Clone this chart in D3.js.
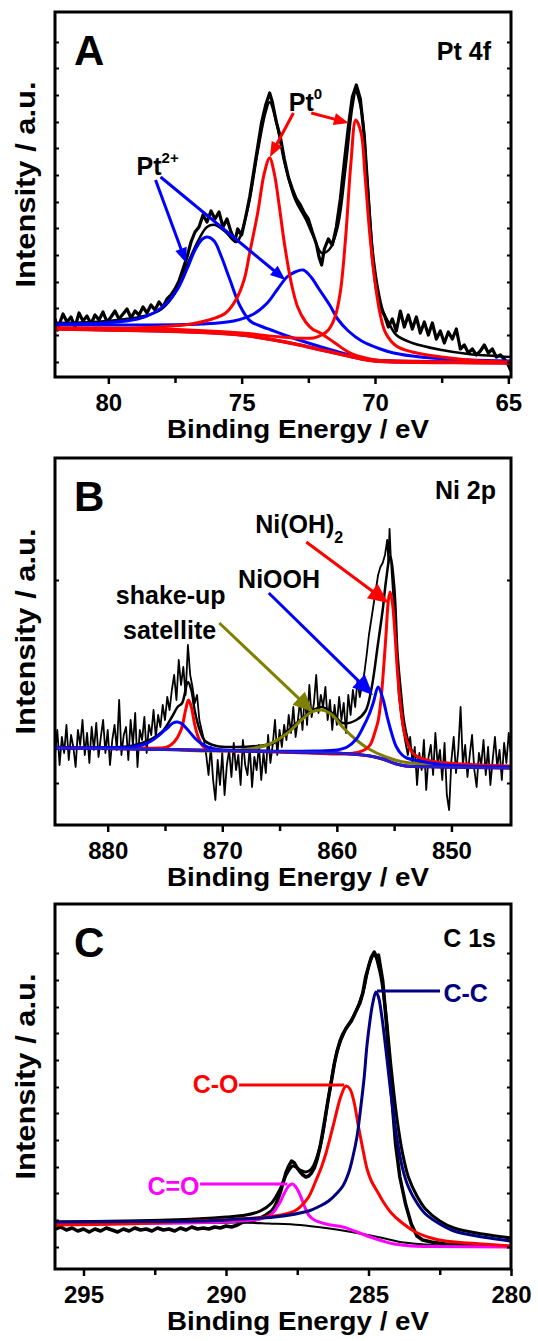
<!DOCTYPE html>
<html>
<head>
<meta charset="utf-8">
<script src="https://cdn.jsdelivr.net/npm/d3@7"></script>
<style>
body { margin: 0; background: #fff; }
text { font-family: "Liberation Sans", Arial, sans-serif; font-weight: bold; }
</style>
</head>
<body>
<script>
// ---------- panel A : Pt 4f ----------
var ptTicks = [80, 75, 70, 65];
var ptMinor = [77.5, 72.5, 67.5];
var ptYTicks = [15, 42, 69, 95, 122, 149, 175, 202, 229, 255, 282, 309, 335];

var ptRaw = [[82.0,58],[81.9,47],[81.85,52],[81.7,63],[81.55,55],[81.4,60],[81.25,50],[81.1,64],[80.95,56],[80.8,61],[80.65,53],
  [80.5,62],[80.35,57],[80.2,65],[80.05,55],[79.9,60],[79.75,66],[79.6,58],[79.45,63],[79.3,68],[79.15,59],[79.0,66],
  [78.85,62],[78.7,70],[78.55,64],[78.4,72],[78.25,67],[78.1,75],[77.95,70],[77.8,78],[77.65,82],[77.5,88],[77.35,96],
  [77.2,108],[77.05,120],[76.9,135],[76.75,145],[76.6,150],[76.45,162],[76.3,155],[76.15,166],[76.0,158],[75.85,165],
  [75.7,150],[75.55,158],[75.4,145],[75.25,136],[75.15,148],[75.0,142],[74.85,160],[74.7,180],[74.55,205],[74.4,230],
  [74.25,255],[74.1,272],[73.95,284],[73.85,275],[73.7,255],[73.55,240],[73.4,218],[73.25,200],[73.1,188],[72.95,178],
  [72.8,172],[72.65,164],[72.5,158],[72.35,145],[72.2,133],[72.1,120],[72.0,112],[71.9,128],[71.75,138],[71.6,132],
  [71.45,150],[71.3,178],[71.15,215],[71.0,250],[70.85,280],[70.7,292],[70.55,278],[70.4,240],[70.25,180],[70.1,120],
  [69.95,88],[69.8,68],[69.65,62],[69.5,50],[69.35,58],[69.2,46],[69.05,66],[68.9,50],[68.75,62],[68.6,48],[68.45,60],
  [68.3,44],[68.15,55],[68.0,42],[67.85,54],[67.7,38],[67.55,46],[67.4,34],[67.25,45],[67.1,38],[66.95,48],[66.8,28],
  [66.65,32],[66.5,24],[66.35,28],[66.2,22],[66.05,26],[65.9,32],[65.75,24],[65.6,28],[65.45,20],[65.3,22],[65.15,18],
  [65.0,12],[64.9,6]];
var ptFit = [[82,54],[80,56],[78.5,62],[78,68],[77.5,84],[77,115],[76.6,138],[76.3,150],[76,152],[75.6,145],[75.2,135],
  [74.8,165],[74.4,225],[74.1,265],[73.95,275],[73.7,255],[73.4,215],[73.0,178],[72.6,158],[72.3,140],[72.0,124],
  [71.7,128],[71.4,150],[71.1,210],[70.85,270],[70.72,285],[70.5,265],[70.3,200],[70.1,130],[69.9,90],[69.7,66],
  [69.5,55],[69.2,42],[68.6,34],[67.5,27],[66.5,23],[65.5,21],[64.9,20]];
var ptBase = [[82,48],[80,47],[78,46],[76,44],[75,42],[74,38],[73,33],[72,27],[71,21],[70.5,18],[70,16],[69,15],
  [67,14.5],[64.9,14]];
var pt0High = [[82,49],[79,49],[77.6,51],[76.9,53],[76.1,58],[75.6,64],[75.2,78],[74.9,98],[74.7,124],[74.4,164],
  [74.15,204],[73.95,219],[73.78,204],[73.59,171],[73.4,134],[73.14,94],[72.9,70],[72.6,55],[72.35,48],[72.05,44],
  [71.5,34],[71.0,25],[70.5,20],[70.0,17],[68.5,15.5],[64.9,14.5]];
var pt0Low = [[82,49],[78,48],[75,44],[73.5,40],[72.3,39],[72.0,42],[71.75,47],[71.5,60],[71.3,85],[71.1,140],
  [70.9,215],[70.72,257],[70.52,244],[70.38,204],[70.2,144],[70.0,95],[69.8,62],[69.6,44],[69.2,31],[68.6,25],
  [67.5,20],[66,16],[64.9,15]];
var pt2High = [[82,53],[80.2,54],[78.9,58],[78.3,64],[77.8,74],[77.4,88],[77.05,108],[76.73,128],[76.47,138],
  [76.28,140],[76.03,136],[75.77,121],[75.45,98],[75.06,71],[74.68,56],[74.2,50],[73.9,47],[73.4,42],[72.5,34],
  [71.5,26],[70.5,19],[70.0,17],[68,15.5],[64.9,15]];
var pt2Low = [[82,52],[79,52],[76.5,53],[75.3,56],[74.55,63],[74.04,74],[73.65,88],[73.3,100],[73.0,105],
  [72.69,107],[72.4,100],[72.1,88],[71.7,72],[71.4,58],[71.0,46],[70.5,36],[69.8,28],[69.3,24],[68.3,20],
  [66.5,17],[64.9,16]];

// ---------- panel B : Ni 2p ----------
var niTicks = [880, 870, 860, 850];
var niMinor = [875, 865, 855];
var niYTicks = [42, 245];

var niRaw = [[884.6,70],[884.4,95],[884.2,60],[884.0,88],[883.8,72],[883.6,100],[883.4,65],[883.2,90],[883.0,78],
  [882.8,58],[882.6,95],[882.4,80],[882.2,105],[882.0,70],[881.8,92],[881.6,62],[881.4,98],[881.2,75],[881.0,102],
  [880.8,68],[880.6,88],[880.4,105],[880.2,72],[880.0,95],[879.8,60],[879.6,85],[879.4,100],[879.2,75],[879.0,125],
  [878.8,70],[878.6,90],[878.4,98],[878.2,65],[878.0,105],[877.8,80],[877.6,112],[877.4,58],[877.2,95],[877.0,85],
  [876.8,108],[876.6,72],[876.4,100],[876.2,90],[876.0,115],[875.8,88],[875.6,110],[875.4,98],[875.2,120],
  [875.0,105],[874.8,128],[874.6,115],[874.4,135],[874.2,150],[874.0,125],[873.8,165],[873.6,140],[873.4,158],
  [873.2,130],[873.0,180],[872.8,150],[872.6,138],[872.4,122],[872.2,130],[872.0,105],[871.8,95],[871.6,85],
  [871.4,70],[871.2,50],[871.0,78],[870.8,45],[870.6,25],[870.4,65],[870.2,40],[870.0,72],[869.8,30],[869.6,60],
  [869.4,75],[869.2,48],[869.0,82],[868.8,55],[868.6,70],[868.4,40],[868.2,85],[868.0,60],[867.8,50],[867.6,78],
  [867.4,38],[867.2,68],[867.0,55],[866.8,80],[866.6,45],[866.4,72],[866.2,52],[866.0,90],[865.8,62],[865.6,80],
  [865.4,105],[865.2,70],[865.0,95],[864.8,78],[864.6,100],[864.4,85],[864.2,110],[864.0,92],[863.8,118],
  [863.6,88],[863.4,105],[863.2,125],[863.0,95],[862.8,130],[862.6,100],[862.4,140],[862.2,108],[862.0,122],
  [861.8,150],[861.6,112],[861.4,130],[861.2,118],[861.0,138],[860.8,105],[860.6,125],[860.4,95],[860.2,120],
  [860.0,100],[859.8,128],[859.6,105],[859.4,122],[859.2,92],[859.0,130],[858.8,110],[858.6,135],[858.4,118],
  [858.2,145],[858.0,128],[857.8,140],[857.6,152],[857.4,170],[857.2,190],[857.0,205],[856.8,220],[856.6,235],
  [856.4,250],[856.2,258],[856.0,262],[855.8,270],[855.6,285],[855.5,262],[855.4,296],[855.3,270],[855.2,250],
  [855.0,215],[854.8,170],[854.6,130],[854.4,110],[854.2,95],[854.0,82],[853.8,70],[853.6,88],[853.4,62],
  [853.2,78],[853.0,40],[852.8,72],[852.6,55],[852.4,85],[852.2,35],[852.0,68],[851.8,80],[851.6,50],[851.4,92],
  [851.2,60],[851.0,75],[850.8,45],[850.6,82],[850.4,30],[850.2,15],[850.0,65],[849.8,88],[849.6,52],[849.4,75],
  [849.2,118],[849.0,60],[848.8,80],[848.6,48],[848.4,70],[848.2,90],[848.0,55],[847.8,38],[847.6,72],[847.4,60],
  [847.2,85],[847.0,50],[846.8,78],[846.6,40],[846.4,65],[846.2,88],[846.0,58],[845.8,75],[845.6,45],[845.4,82],
  [845.2,62],[845.0,92],[844.8,70]];
var niFit = [[884.6,78],[878,79],[876.2,86],[875.2,94],[874.4,108],[873.9,118],[873.5,122],[873.0,143],[872.7,135],
  [872.4,114],[872.0,96],[871.5,84],[870.5,79],[869,78],[867,79],[865.5,82],[864.3,94],[863.1,106],[862.2,114],
  [861.3,118],[860.4,112],[859.5,102],[858.3,105],[857.5,114],[857.0,135],[856.4,182],[856.0,215],[855.7,245],
  [855.35,269],[855.0,240],[854.7,171],[854.4,132],[854.1,101],[853.6,78],[853.0,68],[852,63],[850,60],[844.8,58]];
var niBase = [[884.6,77],[874.5,75.5],[865.8,73.5],[860,72],[857.1,69],[856,66],[854.8,61],[854,59],[850.6,58],
  [844.8,57]];
var niOH1 = [[884.6,77],[878,77],[875.5,77],[874.8,78],[874.2,83],[873.6,95],[873.2,115],[872.95,125],[872.7,118],
  [872.4,100],[872.1,88],[871.7,79],[871.2,75.5],[869,74],[865.8,73.5],[860,72],[857.1,69],[856,66],[854.8,61],
  [854,59],[850.6,58],[844.8,57]];
var niOH2 = [[884.6,77],[875,75.5],[868,74],[862.5,72],[859.5,71],[858.5,72],[857.6,75],[857.1,80],[856.7,92],
  [856.4,104],[856.15,125],[855.95,152],[855.7,192],[855.5,225],[855.35,233],[855.15,222],[854.95,195],[854.7,152],
  [854.45,120],[854.1,92],[853.7,78],[853.3,71],[852.5,66],[851.3,63],[849,61],[844.8,59]];
var niOOH1 = [[884.6,77],[880,77.5],[878,78],[877,80],[876.2,84],[875.5,90],[874.8,97],[874.3,102],[873.9,103],
  [873.5,101],[873.0,95],[872.4,87],[871.9,82],[871.2,77.5],[870.4,75.5],[867,74],[862.5,72.5],[860,72],[857.1,69],
  [856,66],[854.8,61],[854,59],[850.6,58],[844.8,57]];
var niOOH2 = [[884.6,77],[875,75.5],[868,74],[862,74],[860,75],[859.1,78],[858.3,86],[857.7,98],[857.2,110],
  [856.8,123],[856.4,138],[856.0,127],[855.6,108],[855.3,95],[854.8,78],[854.3,70],[853.9,67],[852.8,64],
  [850.6,60],[844.8,58]];
var niSat = [[884.6,77],[878,76.5],[875,76],[871.5,74],[868.5,75],[866.1,80],[864.3,92],[863.1,105],[862.2,113],
  [861.3,115],[860.4,110],[859.5,98],[858.4,86],[857.2,76],[855.7,68],[854.2,63],[850.6,60],[844.8,58]];

// ---------- panel C : C 1s ----------
var cTicks = [295, 290, 285, 280];
var cMinor = [292.5, 287.5, 282.5];
var cYTicks = [22, 49, 76, 102, 129, 156, 182, 209, 236, 262, 289, 316];

var cRaw = [[296,40],[295.8,42],[295.6,39],[295.4,41],[295.2,38],[295,40],[294.8,37],[294.6,40],[294.4,38],
  [294.2,41],[294,39],[293.8,37],[293.6,40],[293.4,38],[293.2,41],[293,39],[292.8,40],[292.6,38],[292.4,41],
  [292.2,39],[292,40],[291.8,38],[291.6,41],[291.4,39],[291.2,42],[291,40],[290.8,41],[290.6,40],[290.4,42],
  [290.2,41],[290,43],[289.8,42],[289.6,44],[289.4,47],[289.2,48],[289,49],[288.8,51],[288.6,54],[288.4,58],
  [288.3,62],[288.2,68],[288.1,76],[288,86],[287.9,96],[287.8,103],[287.7,108],[287.6,106],[287.5,101],[287.4,97],
  [287.3,94],[287.2,92],[287.1,93],[287,96],[286.9,101],[286.8,110],[286.7,122],[286.6,138],[286.5,155],[286.4,172],
  [286.3,188],[286.2,205],[286.1,218],[286,228],[285.9,235],[285.8,240],[285.7,244],[285.6,248],[285.5,254],
  [285.4,260],[285.3,266],[285.2,276],[285.1,292],[285,302],[284.9,312],[284.8,317],[284.72,312],[284.65,314],
  [284.5,288],[284.37,245],[284.22,185],[284.05,125],[283.9,92],[283.7,65],[283.5,45],[283.3,33],[283.1,29],
  [282.8,27],[282.3,25],[281.5,24],[280.5,23],[280,22.5]];
var cFit = [[296,47],[292,49],[290,52],[289.3,54],[288.8,58],[288.4,66],[288.1,80],[287.85,96],[287.65,103],
  [287.4,99],[287.2,97],[287,100],[286.7,122],[286.4,172],[286.1,218],[285.8,240],[285.5,254],[285.2,276],
  [284.95,307],[284.8,314],[284.6,297],[284.4,258],[284.2,200],[284,150],[283.8,115],[283.6,92],[283.3,73],
  [283,60],[282.5,48],[282,41],[281,35],[280,31]];
var cBase = [[296,45],[291,46],[289.5,46.5],[288.5,45.5],[287.4,44],[286.5,41],[285.6,37],[284.5,31],[283.9,27],
  [283,24.5],[282,23],[280,22.5]];
var cCO2 = [[296,45],[293,45.5],[290.7,46.5],[289.5,48],[288.8,50],[288.5,53],[288.3,58],[288.1,67],[287.95,76],
  [287.8,83],[287.67,85],[287.55,82],[287.4,74],[287.25,63],[287.1,54],[286.9,49],[286.5,45],[285.9,42],[285.4,37],
  [284.94,32],[284.5,28],[284.1,25],[283.5,23],[282.9,22.5],[280,22]];
var cCO = [[296,44],[293,45.5],[291.9,47],[290.5,48.5],[289.5,50],[288.3,53],[287.6,58],[287.4,62],[287.1,72],
  [286.85,88],[286.65,102],[286.5,115],[286.25,142],[286.0,170],[285.85,181],[285.78,183],[285.65,180],[285.5,166],
  [285.35,142],[285.2,120],[285.05,100],[284.9,88],[284.7,78],[284.5,68],[284.2,56],[283.9,48],[283.35,37],
  [282.8,31],[282.3,28],[281,25],[280,23]];
var cCC = [[296,47],[293,47.5],[290.7,48],[289.5,50],[288.3,52],[287.1,58],[286.7,63],[286.4,68],[286.1,76],
  [285.9,83],[285.7,96],[285.55,112],[285.4,133],[285.3,155],[285.15,192],[285.06,222],[284.95,248],[284.85,266],
  [284.74,277],[284.65,272],[284.55,256],[284.4,222],[284.2,172],[284.0,130],[283.8,100],[283.6,82],[283.3,66],
  [283.0,55],[282.5,45],[282,38],[281,32],[280,28]];

// ---------- drawing ----------
var w = 538, h = 1341;
var L = 55, R = 511;

var svg = d3.select("body")
  .append("svg")
  .attr("width", w)
  .attr("height", h)
  .style("background", "#fff");

var panels = [
  { id: "A", name: "Pt 4f", top: 12, bottom: 377, xDomain: [82, 64.9],
    ticks: ptTicks, minor: ptMinor, yTicks: ptYTicks, nameDy: 48, nameX: 491,
    curves: [
      { data: ptRaw, color: "#000", width: 3.2, smooth: false },
      { data: ptFit, color: "#000", width: 2.5, smooth: true },
      { data: ptBase, color: "#0000ff", width: 3, smooth: true },
      { data: pt2High, color: "#0000ff", width: 3, smooth: true },
      { data: pt2Low, color: "#0000ff", width: 3, smooth: true },
      { data: ptBase, color: "#ff0000", width: 3.5, smooth: true },
      { data: pt0High, color: "#ff0000", width: 3, smooth: true },
      { data: pt0Low, color: "#ff0000", width: 3, smooth: true }
    ],
    labels: [
      { text: "Pt", sup: "2+", at: [78.94, 202] },
      { text: "Pt", sup: "0", at: [73.23, 266] }
    ],
    arrows: [
      { from: [78.23, 197], to: [77.08, 114], color: "#0000ff", head: 15, hw: 6 },
      { from: [78.04, 200], to: [73.36, 97], color: "#0000ff", head: 15, hw: 6 },
      { from: [73.06, 264], to: [73.94, 220], color: "#ff0000", head: 15, hw: 6 },
      { from: [72.39, 264], to: [70.98, 254], color: "#ff0000", head: 15, hw: 6 }
    ],
    leaders: []
  },
  { id: "B", name: "Ni 2p", top: 458, bottom: 825, xDomain: [884.6, 844.8],
    ticks: niTicks, minor: niMinor, yTicks: niYTicks, nameDy: 41, nameX: 496,
    curves: [
      { data: niRaw, color: "#000", width: 1.8, smooth: false },
      { data: niFit, color: "#000", width: 2.5, smooth: true },
      { data: niSat, color: "#808000", width: 3, smooth: true },
      { data: niOH1, color: "#ff0000", width: 3, smooth: true },
      { data: niOH2, color: "#ff0000", width: 3, smooth: true },
      { data: niOOH1, color: "#0000ff", width: 3, smooth: true },
      { data: niOOH2, color: "#0000ff", width: 3, smooth: true },
      { data: niBase, color: "#2a20c8", width: 2.5, smooth: true }
    ],
    labels: [
      { text: "Ni(OH)", sub: "2", at: [867.13, 292] },
      { text: "NiOOH", at: [868.62, 237] },
      { text: "shake-up", at: [874.5, 221], anchor: "middle" },
      { text: "satellite", at: [874.6, 186], anchor: "middle" }
    ],
    arrows: [
      { from: [862.67, 283], to: [855.51, 222], color: "#ff0000", head: 20, hw: 9 },
      { from: [865.94, 232], to: [856.86, 130], color: "#0000ff", head: 20, hw: 9 },
      { from: [870.26, 202], to: [862.07, 113], color: "#808000", head: 20, hw: 9 }
    ],
    leaders: []
  },
  { id: "C", name: "C 1s", top: 904, bottom: 1269, xDomain: [296, 280],
    ticks: cTicks, minor: cMinor, yTicks: cYTicks, nameDy: 43, nameX: 496,
    curves: [
      { data: cRaw, color: "#000", width: 3.5, smooth: false },
      { data: cFit, color: "#000", width: 3, smooth: true },
      { data: cBase, color: "#000", width: 2, smooth: true },
      { data: cCO2, color: "#ff00ff", width: 3, smooth: true },
      { data: cCO, color: "#ff0000", width: 3, smooth: true },
      { data: cCC, color: "#000080", width: 3, smooth: true }
    ],
    labels: [
      { text: "C-C", at: [282.37, 267], color: "#000080" },
      { text: "C-O", at: [289.56, 176], color: "#ff0000", anchor: "end" },
      { text: "C=O", at: [290.93, 74], color: "#ff00ff", anchor: "end" }
    ],
    arrows: [],
    leaders: [
      { from: [284.7, 278], to: [282.49, 278], color: "#000080" },
      { from: [289.54, 184], to: [285.85, 184], color: "#ff0000" },
      { from: [290.91, 85], to: [287.85, 85], color: "#ff00ff" }
    ]
  }
];

panels.forEach(drawPanel);

function drawPanel(p) {
  var g = svg.append("g");
  var x = d3.scaleLinear().domain(p.xDomain).range([L, R]);
  var y = d3.scaleLinear().domain([0, p.bottom - p.top]).range([p.bottom, p.top]);

  svg.append("clipPath").attr("id", "clip" + p.id)
    .append("rect")
    .attr("x", L).attr("y", p.top)
    .attr("width", R - L).attr("height", p.bottom - p.top);

  var plot = g.append("g").attr("clip-path", "url(#clip" + p.id + ")");
  p.curves.forEach(function(c) {
    var line = d3.line()
      .x(function(d) { return x(d[0]); })
      .y(function(d) { return y(d[1]); })
      .curve(c.smooth ? d3.curveCatmullRom.alpha(0.5) : d3.curveLinear);
    plot.append("path")
      .datum(c.data)
      .attr("fill", "none")
      .attr("stroke", c.color)
      .attr("stroke-width", c.width)
      .attr("stroke-linejoin", "round")
      .attr("d", line);
  });

  // bottom axis, labelled and minor ticks
  var xa = g.append("g").attr("transform", "translate(0," + p.bottom + ")")
    .call(d3.axisBottom(x).tickValues(p.ticks).tickSize(7).tickFormat(d3.format("d")));
  var xm = g.append("g").attr("transform", "translate(0," + p.bottom + ")")
    .call(d3.axisBottom(x).tickValues(p.minor).tickSize(6).tickFormat(""));
  [xa, xm].forEach(function(a) {
    a.attr("font-family", null).attr("font-size", null);
    a.select(".domain").remove();
    a.selectAll("line").attr("stroke", "#000").attr("stroke-width", 2.5);
  });
  xa.selectAll("text")
    .attr("y", 34).attr("dy", null)
    .attr("fill", "#000")
    .style("font-size", "24px");

  // small inward ticks on left and right
  var yl = g.append("g").attr("transform", "translate(" + L + ",0)")
    .call(d3.axisLeft(y).tickValues(p.yTicks).tickSize(-4).tickFormat(""));
  var yr = g.append("g").attr("transform", "translate(" + R + ",0)")
    .call(d3.axisRight(y).tickValues(p.yTicks).tickSize(-4).tickFormat(""));
  [yl, yr].forEach(function(a) {
    a.select(".domain").remove();
    a.selectAll("line").attr("stroke", "#000").attr("stroke-width", 2);
  });

  // frame
  g.append("rect")
    .attr("x", L).attr("y", p.top)
    .attr("width", R - L).attr("height", p.bottom - p.top)
    .attr("fill", "none").attr("stroke", "#000").attr("stroke-width", 3);

  // leader lines (panel C)
  p.leaders.forEach(function(l) {
    g.append("line")
      .attr("x1", x(l.from[0])).attr("y1", y(l.from[1]))
      .attr("x2", x(l.to[0])).attr("y2", y(l.to[1]))
      .attr("stroke", l.color).attr("stroke-width", 3);
  });

  p.arrows.forEach(function(a) {
    var x1 = x(a.from[0]), y1 = y(a.from[1]), x2 = x(a.to[0]), y2 = y(a.to[1]);
    var dx = x2 - x1, dy = y2 - y1, len = Math.sqrt(dx * dx + dy * dy);
    var ux = dx / len, uy = dy / len;
    var bx = x2 - ux * a.head, by = y2 - uy * a.head;
    g.append("line")
      .attr("x1", x1).attr("y1", y1)
      .attr("x2", bx + ux * 2).attr("y2", by + uy * 2)
      .attr("stroke", a.color).attr("stroke-width", 3);
    g.append("path")
      .attr("d", "M" + x2 + "," + y2 +
                 "L" + (bx - uy * a.hw) + "," + (by + ux * a.hw) +
                 "L" + (bx + uy * a.hw) + "," + (by - ux * a.hw) + "Z")
      .attr("fill", a.color);
  });

  p.labels.forEach(function(l) {
    var t = g.append("text")
      .attr("x", x(l.at[0])).attr("y", y(l.at[1]))
      .attr("fill", l.color || "#000")
      .attr("text-anchor", l.anchor || "start")
      .style("font-size", "25px")
      .text(l.text);
    if (l.sup) t.append("tspan").attr("dy", -12).style("font-size", "15px").text(l.sup);
    if (l.sub) t.append("tspan").attr("dy", 10).style("font-size", "16px").text(l.sub);
  });

  // panel letter and core level name
  g.append("text").attr("x", 74).attr("y", p.top + 53)
    .style("font-size", "42px").text(p.id);
  g.append("text").attr("x", p.nameX).attr("y", p.top + p.nameDy)
    .attr("text-anchor", "end")
    .style("font-size", "25px").text(p.name);

  // axis titles
  g.append("text")
    .attr("x", 298).attr("y", p.bottom + 61)
    .attr("text-anchor", "middle")
    .attr("textLength", 262).attr("lengthAdjust", "spacingAndGlyphs")
    .style("font-size", "25px")
    .text("Binding Energy / eV");
  var cy = (p.top + p.bottom) / 2 - 10;
  g.append("text")
    .attr("transform", "translate(35," + cy + ") rotate(-90)")
    .attr("text-anchor", "middle")
    .attr("textLength", 206).attr("lengthAdjust", "spacingAndGlyphs")
    .style("font-size", "28px")
    .text("Intensity / a.u.");
}
</script>
</body>
</html>
